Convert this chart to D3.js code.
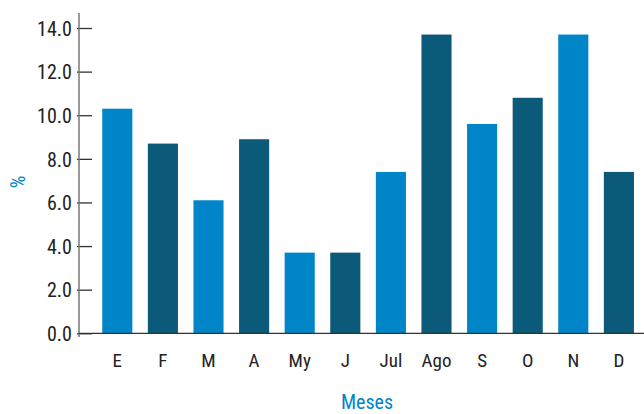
<!DOCTYPE html>
<html>
<head>
<meta charset="utf-8">
<script src="https://cdn.jsdelivr.net/npm/d3@7"></script>
<style>
  body { margin: 0; background: #fff; }
  text { font-family: "Liberation Sans Narrow", "Roboto Condensed", "Liberation Sans", sans-serif; }
</style>
</head>
<body>
<div id="chart"></div>
<script>
// monthly values (%)
const months = ["E", "F", "M", "A", "My", "J", "Jul", "Ago", "S", "O", "N", "D"];
const values = [10.3, 8.7, 6.1, 8.9, 3.7, 3.7, 7.4, 13.7, 9.6, 10.8, 13.7, 7.4];
const yTicks = [0, 2, 4, 6, 8, 10, 12, 14];
const colors = ["#0085c8", "#0b5a7a"];

const w = 644;
const h = 414;

const svg = d3.select("#chart")
              .append("svg")
              .attr("width", w)
              .attr("height", h)

const x = d3.scaleBand()
            .domain(months)
            .range([94.5, 641.7])
            .paddingInner(0.34)
            .paddingOuter(0.17)

const y = d3.scaleLinear()
            .domain([0, 14])
            .range([333.3, 28])

// bars
svg.selectAll("rect.bar")
   .data(values)
   .enter()
   .append("rect")
   .attr("class", "bar")
   .attr("x", (d, i) => x(months[i]))
   .attr("y", d => y(d))
   .attr("width", x.bandwidth())
   .attr("height", d => y(0) - y(d))
   .attr("fill", (d, i) => colors[i % 2])

// y axis
const yAxis = svg.append("g")
   .attr("transform", "translate(79,0)")
   .call(d3.axisRight(y).tickValues(yTicks).tickSize(13).tickFormat(d3.format(".1f")))

yAxis.select(".domain").remove()
yAxis.selectAll(".tick line").attr("x1", -2).attr("stroke", "#333").attr("stroke-width", 1.3)
yAxis.selectAll(".tick text")
     .attr("x", -7)
     .attr("text-anchor", "end")
     .attr("font-size", 20)
     .attr("fill", "#222")
     .attr("dy", "0.36em")

svg.append("line")
   .attr("x1", 79).attr("x2", 79)
   .attr("y1", 13).attr("y2", 337)
   .attr("stroke", "#777")
   .attr("stroke-width", 1.5)

// x axis
svg.append("line")
   .attr("x1", 79).attr("x2", w)
   .attr("y1", y(0)).attr("y2", y(0))
   .attr("stroke", "#333")
   .attr("stroke-width", 1.3)

svg.selectAll("text.month")
   .data(months)
   .enter()
   .append("text")
   .attr("class", "month")
   .attr("x", d => x(d) + x.bandwidth() / 2)
   .attr("y", 367)
   .attr("text-anchor", "middle")
   .attr("font-size", 19)
   .attr("fill", "#222")
   .text(d => d)

// axis titles
svg.append("text")
   .attr("x", 367)
   .attr("y", 409)
   .attr("text-anchor", "middle")
   .attr("font-size", 20)
   .attr("fill", "#0085c8")
   .text("Meses")

svg.append("text")
   .attr("transform", "translate(25,182) rotate(-90)")
   .attr("text-anchor", "middle")
   .attr("font-size", 20)
   .attr("fill", "#0085c8")
   .text("%")
</script>
</body>
</html>
